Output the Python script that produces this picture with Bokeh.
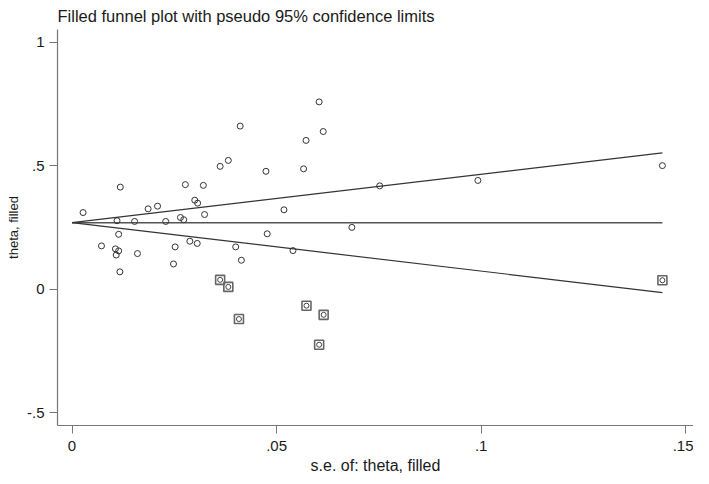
from bokeh.plotting import figure
from bokeh.models import FixedTicker, Range1d, Title
from bokeh.embed import file_html
from bokeh.resources import INLINE

# Observed studies (standard error, effect size theta)
se_obs = [0.0027, 0.0072, 0.0106, 0.0114, 0.0108, 0.0117, 0.0114, 0.0110, 0.0118, 0.0153,
          0.0160, 0.0186, 0.0209, 0.0229, 0.0248, 0.0252, 0.0265, 0.0273, 0.0277, 0.0288,
          0.0300, 0.0306, 0.0307, 0.0321, 0.0324, 0.0362, 0.0382, 0.0400, 0.0411, 0.0414,
          0.0474, 0.0477, 0.0518, 0.0540, 0.0566, 0.0572, 0.0604, 0.0614, 0.0684, 0.0752,
          0.0992, 0.1443]
theta_obs = [0.310, 0.175, 0.163, 0.155, 0.138, 0.070, 0.222, 0.277, 0.413, 0.274,
             0.144, 0.325, 0.336, 0.274, 0.102, 0.171, 0.290, 0.281, 0.423, 0.194,
             0.360, 0.185, 0.348, 0.420, 0.302, 0.497, 0.521, 0.171, 0.660, 0.117,
             0.477, 0.224, 0.321, 0.156, 0.487, 0.602, 0.758, 0.638, 0.250, 0.418,
             0.440, 0.500]

# Filled (imputed) studies
se_fill = [0.0362, 0.0382, 0.0408, 0.0573, 0.0615, 0.0604, 0.1443]
theta_fill = [0.0375, 0.009, -0.121, -0.067, -0.104, -0.225, 0.036]

# Pooled estimate
theta_pooled = 0.269

x_ticks = [0, 0.05, 0.1, 0.15]
x_tick_labels = ["0", ".05", ".1", ".15"]
y_ticks = [-0.5, 0, 0.5, 1]
y_tick_labels = ["-.5", "0", ".5", "1"]

FONT = "Liberation Sans"
TXT = "#1a1a1a"

p = figure(width=693, height=476, output_backend="svg", toolbar_location=None,
           x_range=Range1d(-0.00355, 0.1519), y_range=Range1d(-0.552, 1.051),
           min_border_left=49, min_border_right=0, min_border_top=21, min_border_bottom=50,
           title="Filled funnel plot with pseudo 95% confidence limits")
p.title.text_font = FONT
p.title.text_font_size = "16.5px"
p.title.text_font_style = "normal"
p.title.text_color = TXT
p.title.align = "left"
p.title.offset = 0
p.title.standoff = 9

p.outline_line_color = None
p.xgrid.visible = False
p.ygrid.visible = False
p.background_fill_color = "white"
p.border_fill_color = "white"

# funnel lines
se_max = max(se_obs + se_fill)
se_line = [0, se_max]
p.line(se_line, [theta_pooled, theta_pooled], line_color="#555555", line_width=1.5)
p.line(se_line, [theta_pooled + 1.96 * s for s in se_line], line_color="#333333", line_width=1.2)
p.line(se_line, [theta_pooled - 1.96 * s for s in se_line], line_color="#333333", line_width=1.2)

# filled squares
p.scatter(se_fill, theta_fill, marker="square", size=9, fill_color=None,
          line_color="#666666", line_width=1.6)
p.scatter(se_fill, theta_fill, marker="circle", size=5, fill_color=None,
          line_color="#444444", line_width=1)
# observed
p.scatter(se_obs, theta_obs, marker="circle", size=6, fill_color=None,
          line_color="#333333", line_width=1)

for ax, ticks, labels in ((p.xaxis[0], x_ticks, x_tick_labels), (p.yaxis[0], y_ticks, y_tick_labels)):
    ax.ticker = FixedTicker(ticks=ticks)
    ax.major_label_overrides = {t: l for t, l in zip(ticks, labels)}
    ax.minor_tick_line_color = None
    ax.major_tick_in = 0
    ax.major_tick_out = 8
    ax.axis_line_color = "#777777"
    ax.major_tick_line_color = "#777777"
    ax.axis_line_width = 1.2
    ax.major_label_text_font = FONT
    ax.major_label_text_font_size = "15px"
    ax.major_label_text_color = TXT
    ax.axis_label_text_font = FONT
    ax.axis_label_text_font_size = "16px"
    ax.axis_label_text_font_style = "normal"
    ax.axis_label_text_color = TXT

p.xaxis.axis_label = "s.e. of: theta, filled"
p.yaxis.major_label_orientation = "horizontal"
p.xaxis.major_label_standoff = 7
p.yaxis.major_label_standoff = 5
p.xaxis.axis_label_standoff = 3

# y-axis title as a side title so it can be shifted along the axis
ytitle = Title(text="theta, filled", align="center", offset=13, standoff=6,
               text_font=FONT, text_font_size="13px", text_font_style="normal",
               text_color=TXT)
p.add_layout(ytitle, "left")

open("out.html", "w").write(file_html(p, INLINE))
